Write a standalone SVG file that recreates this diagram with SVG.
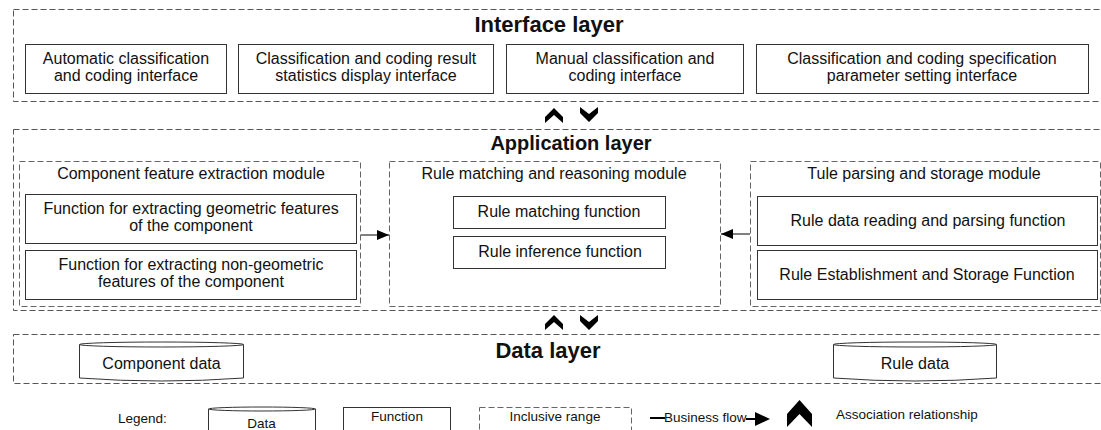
<svg xmlns="http://www.w3.org/2000/svg" width="1101" height="430" viewBox="0 0 1101 430">
<style>
text{font-family:"Liberation Sans",Arial,sans-serif;fill:#111;}
.t{font-size:16px;text-anchor:middle;}
.h{font-size:20px;font-weight:bold;text-anchor:middle;}
.hl{font-size:22px;}
.lg{font-size:13.5px;}
.layer{fill:none;stroke:#555;stroke-width:1;stroke-dasharray:6,3;}
.mod{fill:none;stroke:#666;stroke-width:1;stroke-dasharray:6,3;}
.box{fill:#fff;stroke:#333;stroke-width:1;}
.cyl{fill:#fff;stroke:#333;stroke-width:1;}
.chev{fill:#000;}
.flow{stroke:#000;stroke-width:1;fill:none;}
</style>
<defs>
<marker id="ah" markerWidth="12" markerHeight="10" refX="12" refY="5" orient="auto" markerUnits="userSpaceOnUse">
<path d="M0,0 L12,5 L0,10 Z" fill="#000"/>
</marker>
</defs>

<g id="interface-layer">
<rect class="layer" x="13.5" y="9.5" width="1095" height="92"/>
<text class="h hl" x="549" y="32">Interface layer</text>
</g>
<g id="if-auto">
<rect class="box" x="25.5" y="44.5" width="201" height="49"/>
<text class="t" x="126" y="64">Automatic classification</text>
<text class="t" x="126" y="81">and coding interface</text>
</g>
<g id="if-stats">
<rect class="box" x="238.5" y="44.5" width="255" height="49"/>
<text class="t" x="366" y="64">Classification and coding result</text>
<text class="t" x="366" y="81">statistics display interface</text>
</g>
<g id="if-manual">
<rect class="box" x="506.5" y="44.5" width="237" height="49"/>
<text class="t" x="625" y="64">Manual classification and</text>
<text class="t" x="625" y="81">coding interface</text>
</g>
<g id="if-spec">
<rect class="box" x="756.5" y="44.5" width="332" height="49"/>
<text class="t" x="922" y="64">Classification and coding specification</text>
<text class="t" x="922" y="81">parameter setting interface</text>
</g>

<g id="application-layer">
<rect class="layer" x="13.5" y="129.5" width="1095" height="181"/>
<text class="h" x="571" y="150">Application layer</text>
</g>
<g id="mod-feature">
<rect class="mod" x="19.5" y="161.5" width="341" height="145"/>
<text class="t" x="191" y="179">Component feature extraction module</text>
<g id="fn-geo">
<rect class="box" x="25.5" y="194.5" width="331" height="49"/>
<text class="t" x="191" y="214">Function for extracting geometric features</text>
<text class="t" x="191" y="231">of the component</text>
</g>
<g id="fn-nongeo">
<rect class="box" x="25.5" y="250.5" width="331" height="49"/>
<text class="t" x="191" y="270">Function for extracting non-geometric</text>
<text class="t" x="191" y="287">features of the component</text>
</g>
</g>
<g id="mod-rule-match">
<rect class="mod" x="389.5" y="161.5" width="331" height="145"/>
<text class="t" x="554" y="179">Rule matching and reasoning module</text>
<g id="fn-match">
<rect class="box" x="453.5" y="196.5" width="212" height="32"/>
<text class="t" x="559" y="217">Rule matching function</text>
</g>
<g id="fn-infer">
<rect class="box" x="453.5" y="236.5" width="212" height="32"/>
<text class="t" x="560" y="257">Rule inference function</text>
</g>
</g>
<g id="mod-rule-store">
<rect class="mod" x="750.5" y="161.5" width="350" height="145"/>
<text class="t" x="924" y="179">Tule parsing and storage module</text>
<g id="fn-read">
<rect class="box" x="757.5" y="196.5" width="340" height="49"/>
<text class="t" x="928" y="226">Rule data reading and parsing function</text>
</g>
<g id="fn-establish">
<rect class="box" x="757.5" y="250.5" width="340" height="49"/>
<text class="t" x="927" y="280">Rule Establishment and Storage Function</text>
</g>
</g>

<g id="data-layer">
<rect class="layer" x="13.5" y="334.5" width="1095" height="49"/>
<text class="h hl" x="548" y="358">Data layer</text>
</g>
<g id="db-component">
<path class="cyl" d="M79.5,344.5 L79.5,378 Q161.5,384 243.5,378 L243.5,344.5"/>
<ellipse class="cyl" cx="161.5" cy="344.5" rx="82" ry="2.5"/>
<text class="t" x="161.5" y="369">Component data</text>
</g>
<g id="db-rule">
<path class="cyl" d="M833.5,344.5 L833.5,378 Q915,384 996.5,378 L996.5,344.5"/>
<ellipse class="cyl" cx="915" cy="344.5" rx="81.5" ry="2.5"/>
<text class="t" x="915" y="369">Rule data</text>
</g>

<g id="connectors">
<line class="flow" x1="361" y1="235" x2="389" y2="235" marker-end="url(#ah)"/>
<line class="flow" x1="750" y1="234" x2="721" y2="234" marker-end="url(#ah)"/>
<polygon class="chev" points="554,108 563,117 563,123 554,115 545,123 545,117"/>
<polygon class="chev" points="589,122 598,113 598,107 589,114 580,107 580,113"/>
<polygon class="chev" points="554,315 563,324 563,330 554,322 545,330 545,324"/>
<polygon class="chev" points="589,330 598,321 598,315 589,322 580,315 580,321"/>
</g>

<g id="legend">
<text class="lg" x="118" y="423">Legend:</text>
<path class="cyl" d="M208.5,409 L208.5,436 L315.5,436 L315.5,409"/>
<ellipse class="cyl" cx="262" cy="409" rx="53.5" ry="2"/>
<text class="lg" x="261.5" y="428" text-anchor="middle">Data</text>
<rect class="box" x="343.5" y="407.5" width="107" height="30"/>
<text class="lg" x="397" y="421" text-anchor="middle">Function</text>
<rect class="mod" x="479.5" y="407.5" width="152" height="30"/>
<text class="lg" x="555" y="421" text-anchor="middle">Inclusive range</text>
<line x1="650" y1="418" x2="665" y2="418" stroke="#000" stroke-width="2"/>
<text class="lg" x="664" y="422">Business flow</text>
<line x1="746" y1="419" x2="757" y2="419" stroke="#000" stroke-width="2"/>
<polygon points="755,412 770,419 755,426" fill="#000"/>
<polygon class="chev" points="799.5,400 812,414 812,427 799.5,414 787,427 787,414"/>
<text class="lg" x="836" y="419">Association relationship</text>
</g>
</svg>
